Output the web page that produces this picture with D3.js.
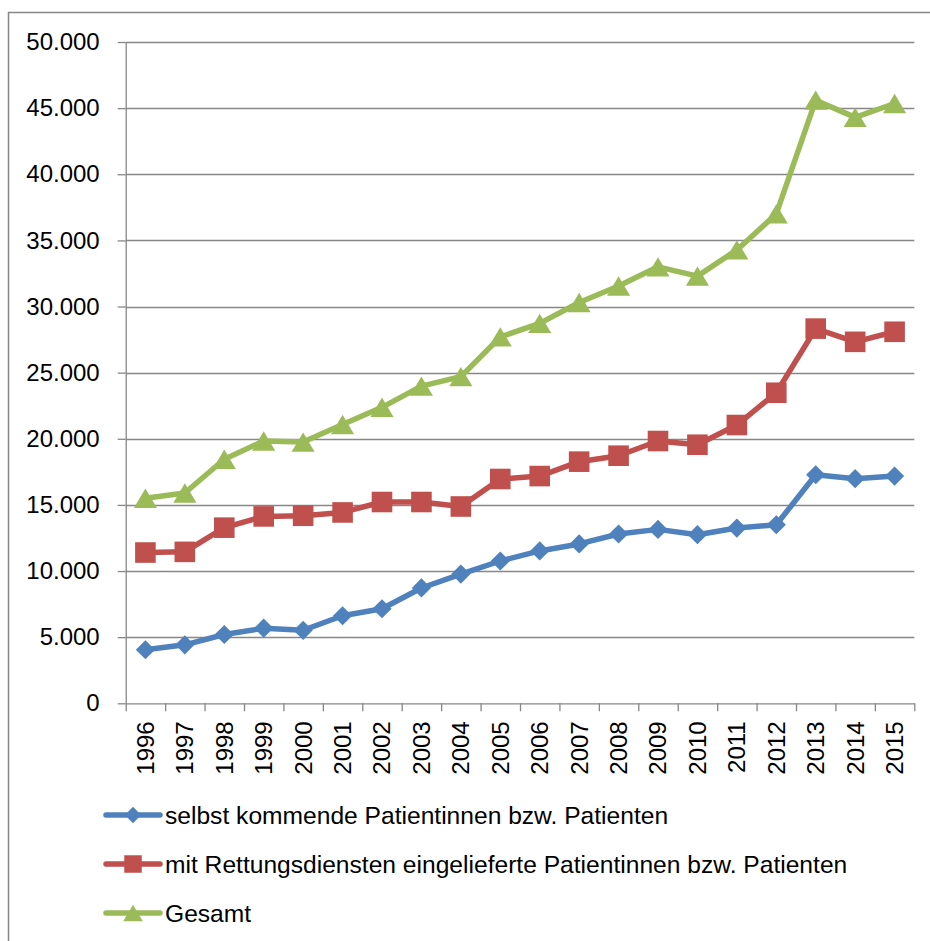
<!DOCTYPE html>
<html>
<head>
<meta charset="utf-8">
<script src="https://cdn.jsdelivr.net/npm/d3@7"></script>
<style>
  body { margin: 0; background: #fff; }
  text { font-family: "Liberation Sans", Arial, sans-serif; fill: #000; }
</style>
</head>
<body>
<div id="chart"></div>
<script>
let width = 930;
let height = 941;

// data
let years = ['1996', '1997', '1998', '1999', '2000', '2001', '2002', '2003', '2004', '2005',
    '2006', '2007', '2008', '2009', '2010', '2011', '2012', '2013', '2014', '2015'];
let selbstKommend = [4050, 4420, 5200, 5680, 5520, 6620, 7150, 8720, 9770, 10760,
    11520, 12050, 12800, 13150, 12750, 13250, 13500, 17280, 16980, 17180];
let rettungsdienst = [11400, 11450, 13280, 14130, 14180, 14430, 15220, 15220, 14880, 16960,
    17180, 18270, 18720, 19830, 19550, 21040, 23480, 28330, 27330, 28090];
let gesamt = [15500, 15900, 18450, 19830, 19750, 21080, 22380, 23980, 24700, 27700,
    28730, 30300, 31550, 33000, 32300, 34280, 37000, 45600, 44300, 45350];
let yTicks = [0, 5000, 10000, 15000, 20000, 25000, 30000, 35000, 40000, 45000, 50000];
let seriesNames = ['selbst kommende Patientinnen bzw. Patienten',
    'mit Rettungsdiensten eingelieferte Patientinnen bzw. Patienten',
    'Gesamt'];

let seriesList = [
    { name: seriesNames[0], values: selbstKommend, color: '#4F81BD', marker: 'diamond' },
    { name: seriesNames[1], values: rettungsdienst, color: '#C0504D', marker: 'square' },
    { name: seriesNames[2], values: gesamt, color: '#9BBB59', marker: 'triangle' }
];

let svg = d3.select('#chart')
    .append('svg')
    .attr('width', width)
    .attr('height', height);

// chart frame
svg.append('rect')
    .attr('x', 8.5)
    .attr('y', 12.5)
    .attr('width', 940)
    .attr('height', 950)
    .attr('fill', 'none')
    .attr('stroke', '#868686')
    .attr('stroke-width', 1.5);

let plot = { left: 125.7, top: 42, right: 914.3, bottom: 703.3 };
let gridColor = '#878787';

let xScale = d3.scaleBand()
    .domain(years)
    .range([plot.left, plot.right]);
let xCenter = d => xScale(d) + xScale.bandwidth() / 2;
let xIndex = d3.scaleLinear()
    .domain([0, years.length])
    .range([plot.left, plot.right]);

let yScale = d3.scaleLinear()
    .domain([0, 50000])
    .range([plot.bottom, plot.top]);

let de = d3.formatLocale({ decimal: ',', thousands: '.', grouping: [3], currency: ['', ' €'] });
let fmt = de.format(',d');

// gridlines
svg.append('g')
    .selectAll('line')
    .data(yTicks.filter(v => v > 0))
    .enter()
    .append('line')
    .attr('x1', plot.left)
    .attr('x2', plot.right)
    .attr('y1', d => Math.round(yScale(d)) + 0.5)
    .attr('y2', d => Math.round(yScale(d)) + 0.5)
    .attr('stroke', gridColor)
    .attr('stroke-width', 1.3);

// y axis
let yAxis = d3.axisLeft(yScale)
    .tickValues(yTicks)
    .tickSize(8)
    .tickSizeOuter(0)
    .tickPadding(18)
    .tickFormat(fmt);
let yAxisGroup = svg.append('g')
    .attr('transform', `translate(${plot.left},0)`)
    .call(yAxis);
yAxisGroup.selectAll('line, path').attr('stroke', gridColor).attr('stroke-width', 1.3);
yAxisGroup.selectAll('text')
    .attr('font-size', 24)
    .attr('font-family', '"Liberation Sans", Arial, sans-serif')
    .attr('fill', '#000');

// x axis ticks at category boundaries
let xTickAxis = d3.axisBottom(xIndex)
    .tickValues(d3.range(years.length + 1))
    .tickSize(8)
    .tickSizeOuter(0)
    .tickFormat('');
let xTickGroup = svg.append('g')
    .attr('transform', `translate(0,${plot.bottom})`)
    .call(xTickAxis);
xTickGroup.selectAll('line, path').attr('stroke', gridColor).attr('stroke-width', 1.3);

// x labels, rotated
svg.append('g')
    .selectAll('text')
    .data(years)
    .enter()
    .append('text')
    .attr('transform', d => `translate(${xCenter(d)},${plot.bottom + 18}) rotate(-90)`)
    .attr('text-anchor', 'end')
    .attr('dy', '0.35em')
    .attr('font-size', 24)
    .text(d => d);

// marker shapes (centered on the point)
function markerPath(type, s) {
    if (type === 'diamond') {
        return `M0,${-s}L${s},0L0,${s}L${-s},0Z`;
    } else if (type === 'square') {
        return `M${-s},${-s}H${s}V${s}H${-s}Z`;
    }
    return `M0,${-s * 0.88}L${s * 1.05},${s * 0.88}L${-s * 1.05},${s * 0.88}Z`;
}
let markerSize = { diamond: 9.6, square: 10.3, triangle: 11 };

let line = d3.line()
    .x((d, i) => xCenter(years[i]))
    .y(d => yScale(d));

let seriesGroups = svg.append('g')
    .selectAll('.series')
    .data(seriesList)
    .enter()
    .append('g')
    .classed('series', true);

seriesGroups.append('path')
    .attr('d', d => line(d.values))
    .attr('fill', 'none')
    .attr('stroke', d => d.color)
    .attr('stroke-width', 5.5)
    .attr('stroke-linejoin', 'round');

seriesGroups.each(function (s) {
    d3.select(this)
        .selectAll('.marker')
        .data(s.values)
        .enter()
        .append('path')
        .classed('marker', true)
        .attr('transform', (d, i) => `translate(${xCenter(years[i])},${yScale(d)})`)
        .attr('d', markerPath(s.marker, markerSize[s.marker]))
        .attr('fill', s.color);
});

// legend
let legendX = 106;
let legendY = 815;
let legendStep = 49;
let legend = svg.append('g')
    .selectAll('.legend')
    .data(seriesList)
    .enter()
    .append('g')
    .attr('transform', (d, i) => `translate(${legendX},${legendY + i * legendStep})`);
legend.append('line')
    .attr('x1', 0)
    .attr('x2', 54)
    .attr('stroke', d => d.color)
    .attr('stroke-width', 5.5)
    .attr('stroke-linecap', 'round');
legend.append('path')
    .attr('transform', 'translate(27,0)')
    .attr('d', d => markerPath(d.marker, markerSize[d.marker] * 0.85))
    .attr('fill', d => d.color);
legend.append('text')
    .attr('x', 59)
    .attr('dy', '0.35em')
    .attr('font-size', 24.6)
    .text(d => d.name);
</script>
</body>
</html>
